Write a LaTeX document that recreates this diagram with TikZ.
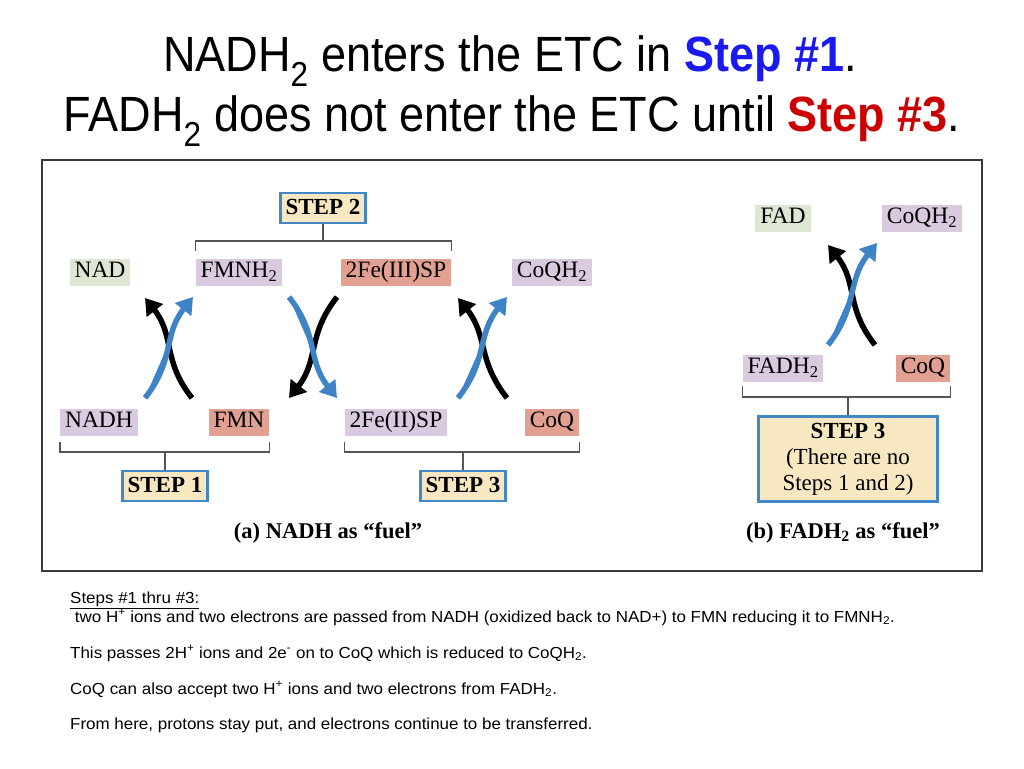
\documentclass[tikz,border=0pt]{standalone}
\usepackage{fontspec}
\setmainfont{Liberation Serif}
\newfontfamily\titlefont[FakeStretch=0.91]{Liberation Sans}
\newfontfamily\notefont[FakeStretch=1.06]{Liberation Sans}
\usetikzlibrary{arrows.meta}

\definecolor{stepblue}{HTML}{4288C8}
\definecolor{stepfill}{HTML}{F8E8C2}
\definecolor{arrowblue}{HTML}{3D83C6}
\definecolor{redfill}{HTML}{D9CADF}
\definecolor{oxfill}{HTML}{E1A091}
\definecolor{prodfill}{HTML}{DDE7D3}
\definecolor{titleblue}{HTML}{1A1AEE}
\definecolor{titlered}{HTML}{CC0000}
\definecolor{bracketgray}{HTML}{555555}
\definecolor{framegray}{HTML}{3A3A3A}

\begin{document}
\begin{tikzpicture}[x=1pt, y=-1pt,
    carrier/.style={inner xsep=5pt, inner ysep=0pt, text height=17pt, text depth=6pt,
                    minimum height=27pt, font=\fontsize{23.5}{27}\selectfont},
    reduced/.style={carrier, fill=redfill},
    oxidized/.style={carrier, fill=oxfill},
    product/.style={carrier, fill=prodfill},
    step node/.style={draw=stepblue, line width=2.3pt, fill=stepfill, inner xsep=5pt,
                      inner ysep=0pt, text height=17pt, text depth=5pt, minimum height=30pt,
                      font=\fontsize{23}{27}\selectfont\bfseries},
    bracket/.style={draw=bracketgray, line width=1.5pt},
    black arrow/.style={line width=5.5pt, -{Triangle[length=16pt,width=20pt]}},
    blue arrow/.style={black arrow, draw=arrowblue, fill=arrowblue},
    caption/.style={font=\fontsize{22.5}{26}\selectfont\bfseries},
    title/.style={anchor=base, inner sep=0pt, font=\titlefont\fontsize{49.5}{56}\selectfont},
    note/.style={anchor=base west, inner sep=0pt, font=\notefont\fontsize{16}{19}\selectfont}]

  \useasboundingbox (0,0) rectangle (1024,768);

  \node[title] (line1) at (510,71) {NADH\textsubscript{2} enters the ETC in \textcolor{titleblue}{\bfseries Step \#1}.};
  \node[title] (line2) at (512,131) {FADH\textsubscript{2} does not enter the ETC until \textcolor{titlered}{\bfseries Step \#3}.};

  \draw[framegray, line width=2pt] (42,160) rectangle (982,571);

  % (a) NADH as fuel
  \node[step node] (step2) at (323,208) {STEP 2};
  \node[product]  (nad)    at (100,272) {NAD};
  \node[reduced]  (fmnh2)  at (239,272) {FMNH\textsubscript{2}};
  \node[oxidized] (fe3)    at (396,272) {2Fe(III)SP};
  \node[reduced]  (coqh2)  at (552,272) {CoQH\textsubscript{2}};
  \node[reduced]  (nadh)   at (99,422) {NADH};
  \node[oxidized] (fmn)    at (239,422) {FMN};
  \node[reduced]  (fe2)    at (396,422) {2Fe(II)SP};
  \node[oxidized] (coq)    at (552,422) {CoQ};
  \node[step node] (step1) at (165,486) {STEP 1};
  \node[step node] (step3) at (463,486) {STEP 3};
  \node[caption] (capa) at (328,533) {(a) NADH as “fuel”};

  \coordinate (b2) at (323,241);
  \coordinate (b1) at (165,452);
  \coordinate (b3) at (463,452);
  \draw[bracket] ([yshift=7pt]fmnh2.north west) |- (b2) -| ([yshift=7pt]fe3.north east);
  \draw[bracket] (b2) -- (step2.south);
  \draw[bracket] ([yshift=-6pt]nadh.south west) |- (b1) -| ([yshift=-6pt]fmn.south east);
  \draw[bracket] (b1) -- (step1.north);
  \draw[bracket] ([yshift=-6pt]fe2.south west) |- (b3) -| ([yshift=-6pt]coq.south east);
  \draw[bracket] (b3) -- (step3.north);

  \coordinate (p1bl) at (145,398); \coordinate (p1br) at (192,398);
  \coordinate (p1tl) at (145,298); \coordinate (p1tr) at (193,297);
  \coordinate (p2bl) at (289,398); \coordinate (p2br) at (337,398);
  \coordinate (p2tl) at (289,297); \coordinate (p2tr) at (337,297);
  \coordinate (p3bl) at (458,398); \coordinate (p3br) at (507,398);
  \coordinate (p3tl) at (458,298); \coordinate (p3tr) at (507,297);

  \draw[black arrow] (p1br) .. controls +(-30,-38) and +(30,38) .. (p1tl);
  \draw[blue arrow]  (p1bl) .. controls +(30,-38) and +(-30,38) .. (p1tr);
  \draw[black arrow] (p2tr) .. controls +(-30,38) and +(30,-38) .. (p2bl);
  \draw[blue arrow]  (p2tl) .. controls +(30,38) and +(-30,-38) .. (p2br);
  \draw[black arrow] (p3br) .. controls +(-30,-38) and +(30,38) .. (p3tl);
  \draw[blue arrow]  (p3bl) .. controls +(30,-38) and +(-30,38) .. (p3tr);

  % (b) FADH2 as fuel
  \node[product]  (fad)    at (783,218) {FAD};
  \node[reduced]  (coqh2b) at (922,218) {CoQH\textsubscript{2}};
  \node[reduced]  (fadh2)  at (783,368) {FADH\textsubscript{2}};
  \node[oxidized] (coqb)   at (923,368) {CoQ};
  \node[step node, minimum width=179pt, minimum height=85pt, text height=, text depth=,
        inner ysep=4pt, align=center, font=\fontsize{23}{26}\selectfont] (step3b) at (848,459)
        {\textbf{STEP 3}\\(There are no\\Steps 1 and 2)};
  \node[caption] (capb) at (843,533) {(b) FADH\textsubscript{2} as “fuel”};

  \coordinate (b4) at (848,397);
  \draw[bracket] ([yshift=-4pt]fadh2.south west) |- (b4) -| ([yshift=-4pt]coqb.south east);
  \draw[bracket] (b4) -- (step3b.north);

  \coordinate (p4bl) at (828,345); \coordinate (p4br) at (875,345);
  \coordinate (p4tl) at (828,245); \coordinate (p4tr) at (877,243);
  \draw[black arrow] (p4br) .. controls +(-30,-38) and +(30,38) .. (p4tl);
  \draw[blue arrow]  (p4bl) .. controls +(30,-38) and +(-30,38) .. (p4tr);

  \node[note] (n1) at (70,603) {\underline{Steps \#1 thru \#3:}};
  \node[note] (n2) at (70,622) {\ two H\textsuperscript{+} ions and two electrons are passed from NADH (oxidized back to NAD+) to FMN reducing it to FMNH\textsubscript{2}.};
  \node[note] (n3) at (70,658) {This passes 2H\textsuperscript{+} ions and 2e\textsuperscript{-} on to CoQ which is reduced to CoQH\textsubscript{2}.};
  \node[note] (n4) at (70,694) {CoQ can also accept two H\textsuperscript{+} ions and two electrons from FADH\textsubscript{2}.};
  \node[note] (n5) at (70,729) {From here, protons stay put, and electrons continue to be transferred.};

\end{tikzpicture}
\end{document}
